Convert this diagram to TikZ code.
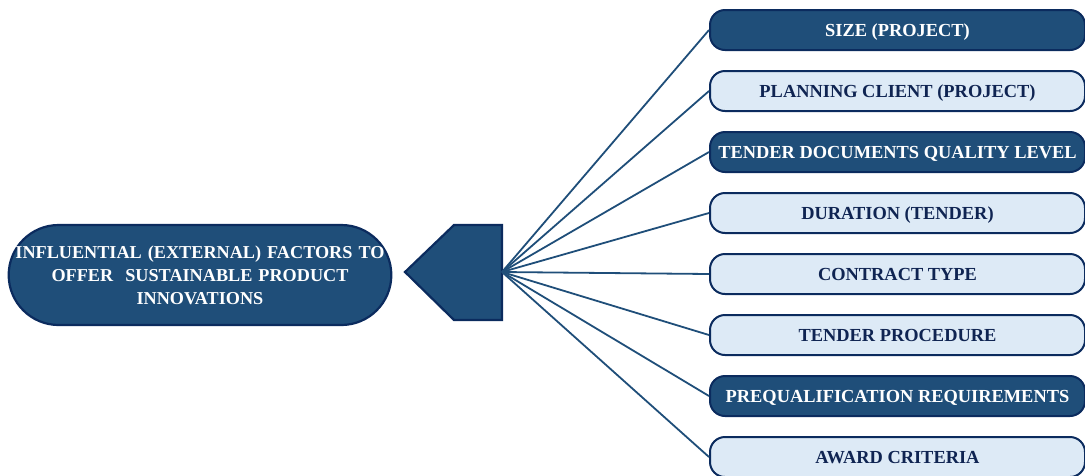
\documentclass[tikz,border=0pt]{standalone}
\usepackage{fontspec}
\setmainfont{Liberation Serif}
\usepackage{tikz}
\usetikzlibrary{arrows.meta,positioning,calc}
\usepackage{xcolor}
\definecolor{navy}{HTML}{0B2B5E}
\definecolor{deep}{HTML}{1F4E79}
\definecolor{pale}{HTML}{DDEAF6}
\definecolor{ink}{HTML}{0F2452}
\tikzset{
  hubbox/.style={draw=navy,fill=deep,line width=2.2pt,rounded corners=50pt,
    minimum width=380pt,minimum height=100pt,text width=376pt,align=center,
    text=white,font=\fontsize{18.2}{23}\selectfont\bfseries},
  darkfactor/.style={draw=navy,fill=deep,line width=2pt,rounded corners=15pt,
    minimum width=375pt,minimum height=40pt,align=center,text depth=0pt,
    text=white,font=\fontsize{18.4}{20}\selectfont\bfseries},
  lightfactor/.style={draw=navy,fill=pale,line width=2pt,rounded corners=15pt,
    minimum width=375pt,minimum height=40pt,align=center,text depth=0pt,
    text=ink,font=\fontsize{18.4}{20}\selectfont\bfseries},
  spoke/.style={draw=deep,line width=1.8pt}
}
\begin{document}
\begin{tikzpicture}[x=1pt,y=-1pt]
  \useasboundingbox (0,0) rectangle (1085,475);
  \node[hubbox] (core) at (200,275) {INFLUENTIAL (EXTERNAL) FACTORS TO\\ OFFER\ \ SUSTAINABLE PRODUCT\\ INNOVATIONS};
  % pentagon pointer
  \draw[draw=navy,fill=deep,line width=2.2pt,line join=miter]
    (405,272) -- (454,225) -- (502,225) -- (502,320) -- (454,320) -- cycle;
  \coordinate (hub) at (502,272);
  \node[darkfactor]  (f1) at (897.5,30)  {SIZE (PROJECT)};
  \node[lightfactor] (f2) at (897.5,91)  {PLANNING CLIENT (PROJECT)};
  \node[darkfactor]  (f3) at (897.5,152) {TENDER DOCUMENTS QUALITY LEVEL};
  \node[lightfactor] (f4) at (897.5,213) {DURATION (TENDER)};
  \node[lightfactor] (f5) at (897.5,274) {CONTRACT TYPE};
  \node[lightfactor] (f6) at (897.5,335) {TENDER PROCEDURE};
  \node[darkfactor]  (f7) at (897.5,396) {PREQUALIFICATION REQUIREMENTS};
  \node[lightfactor] (f8) at (897.5,457) {AWARD CRITERIA};
  \foreach \i in {1,...,8}
    \draw[spoke] (hub) -- (f\i.west);
\end{tikzpicture}
\end{document}
